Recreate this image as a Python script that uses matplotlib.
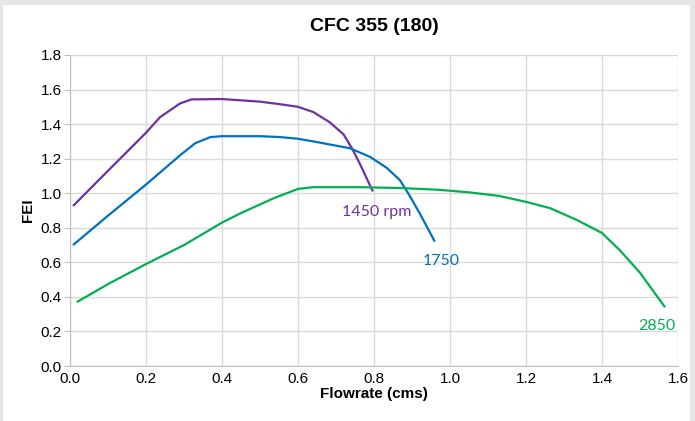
import matplotlib.pyplot as plt
from matplotlib.patches import Rectangle

# FEI curves
flow_1450 = [0.008, 0.10, 0.20, 0.237, 0.27, 0.29, 0.32, 0.40, 0.50, 0.553, 0.60, 0.64, 0.684, 0.72, 0.742, 0.763, 0.78, 0.797]
fei_1450 = [0.926, 1.13, 1.35, 1.44, 1.49, 1.52, 1.543, 1.545, 1.53, 1.515, 1.50, 1.47, 1.41, 1.34, 1.26, 1.17, 1.09, 1.01]

flow_1750 = [0.008, 0.10, 0.20, 0.29, 0.33, 0.37, 0.40, 0.50, 0.553, 0.60, 0.64, 0.737, 0.79, 0.834, 0.868, 0.89, 0.92, 0.96]
fei_1750 = [0.70, 0.87, 1.05, 1.22, 1.29, 1.325, 1.33, 1.33, 1.325, 1.315, 1.30, 1.26, 1.21, 1.146, 1.076, 1.00, 0.885, 0.72]

flow_2850 = [0.018, 0.105, 0.20, 0.30, 0.40, 0.45, 0.535, 0.60, 0.64, 0.70, 0.76, 0.87, 0.97, 1.05, 1.13, 1.20, 1.263, 1.334, 1.40, 1.447, 1.50, 1.566]
fei_2850 = [0.37, 0.48, 0.59, 0.70, 0.83, 0.885, 0.97, 1.025, 1.035, 1.035, 1.035, 1.03, 1.02, 1.005, 0.984, 0.95, 0.914, 0.845, 0.77, 0.67, 0.54, 0.34]

purple = '#7030A0'
blue = '#0070C0'
green = '#00B050'

plt.rcParams['font.family'] = ['Liberation Sans', 'DejaVu Sans']

fig = plt.figure(figsize=(6.95, 4.21), dpi=100, facecolor='#e6e6e6')
fig.add_artist(Rectangle((3 / 695, 0), 687 / 695, 416 / 421, transform=fig.transFigure,
                         facecolor='white', edgecolor='none', zorder=-10))
ax = fig.add_axes([0.1007, 0.1306, 0.8748, 0.7388])
ax.set_facecolor('white')

for fx, fy, c in [(flow_1450, fei_1450, purple), (flow_1750, fei_1750, blue), (flow_2850, fei_2850, green)]:
    ax.plot(fx, fy, color=c, linewidth=1.6, solid_joinstyle='round', solid_capstyle='butt')

lab_font = ['Lato', 'DejaVu Sans']
ax.text(0.715, 0.89, '1450 rpm', color=purple, fontsize=11.5, family=lab_font, ha='left', va='center')
ax.text(0.976, 0.61, '1750', color=blue, fontsize=11.5, family=lab_font, ha='center', va='center')
ax.text(1.545, 0.23, '2850', color=green, fontsize=11.5, family=lab_font, ha='center', va='center')

ax.set_xlim(0, 1.6)
ax.set_ylim(0, 1.8)
ax.set_xticks([0.0, 0.2, 0.4, 0.6, 0.8, 1.0, 1.2, 1.4, 1.6])
ax.set_yticks([0.0, 0.2, 0.4, 0.6, 0.8, 1.0, 1.2, 1.4, 1.6, 1.8])
ax.set_xticklabels(['%.1f' % v for v in ax.get_xticks()])
ax.set_yticklabels(['%.1f' % v for v in ax.get_yticks()])
ax.grid(True, color='#d9d9d9', linewidth=1)
ax.set_axisbelow(True)
for s in ['top', 'right']:
    ax.spines[s].set_visible(False)
for s in ['left', 'bottom']:
    ax.spines[s].set_color('#bfbfbf')
ax.tick_params(axis='y', length=4, color='#bfbfbf', labelsize=11, pad=2)
ax.tick_params(axis='x', length=0, labelsize=11, pad=4)

ax.set_title('CFC 355 (180)', fontsize=14, fontweight='bold', pad=17)
ax.set_xlabel('Flowrate (cms)', fontsize=11, fontweight='bold', labelpad=1)
ax.set_ylabel('FEI', fontsize=11, fontweight='bold', labelpad=4)

fig.savefig('out.png', dpi=100, facecolor=fig.get_facecolor())
